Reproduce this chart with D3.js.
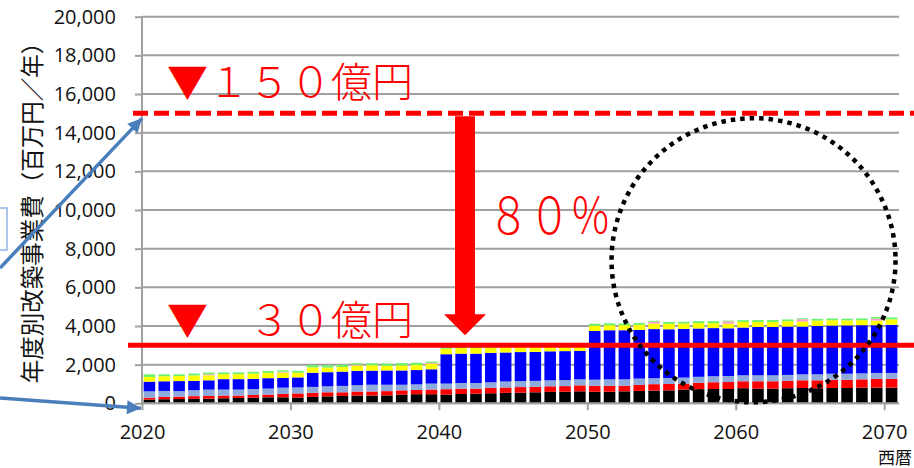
<!DOCTYPE html>
<html>
<head>
<meta charset="utf-8">
<script src="https://cdn.jsdelivr.net/npm/d3@7"></script>
<style>
  html, body { margin: 0; padding: 0; background: #fff; }
  svg { display: block; }
</style>
</head>
<body>
<svg id="chart" width="914" height="468"></svg>
<script>
// Annual renewal project cost by category (百万円/年), 2020–2070
const years = d3.range(2020, 2071);

const seriesBlack = [
  190, 210, 220, 230, 240, 260, 280, 290, 310, 310,
  300, 330, 360, 380, 400, 400, 410, 450, 470, 470,
  450, 480, 500, 520, 540, 550, 570, 590, 600, 620,
  600, 600, 620, 640, 660, 670, 710, 730, 740, 740,
  780, 760, 760, 780, 790, 780, 790, 790, 810, 810, 810
];
const seriesRed = [
  100, 120, 120, 140, 140, 140, 120, 140, 140, 170,
  210, 210, 210, 190, 210, 210, 220, 220, 220, 240,
  280, 280, 260, 280, 280, 290, 280, 290, 290, 310,
  310, 310, 290, 310, 330, 330, 310, 330, 350, 360,
  360, 380, 380, 380, 400, 410, 430, 430, 430, 450, 450
];
const seriesLightBlue = [
  330, 310, 290, 310, 330, 310, 310, 310, 310, 330,
  310, 310, 310, 330, 330, 350, 330, 290, 290, 310,
  290, 290, 290, 290, 310, 310, 310, 310, 310, 310,
  310, 330, 330, 330, 310, 310, 310, 310, 310, 310,
  310, 310, 310, 310, 310, 310, 310, 310, 310, 310, 310
];
const seriesBlue = [
  500, 500, 520, 480, 480, 540, 540, 520, 540, 500,
  520, 730, 730, 740, 740, 730, 740, 740, 740, 740,
  1520, 1520, 1520, 1520, 1500, 1500, 1500, 1500, 1500, 1470,
  2520, 2540, 2540, 2520, 2540, 2520, 2520, 2500, 2490, 2470,
  2470, 2500, 2500, 2500, 2470, 2500, 2490, 2500, 2490, 2470, 2490
];
const seriesYellow = [
  240, 260, 260, 280, 260, 260, 260, 280, 280, 280,
  240, 280, 240, 240, 280, 280, 240, 260, 260, 290,
  290, 290, 290, 280, 280, 280, 280, 260, 260, 260,
  280, 260, 260, 260, 290, 280, 280, 280, 260, 240,
  290, 260, 260, 280, 260, 280, 280, 260, 260, 240, 280
];
const seriesPink = [
  0, 0, 0, 0, 50, 0, 0, 0, 0, 50,
  0, 0, 0, 0, 50, 0, 0, 0, 0, 40,
  0, 0, 0, 0, 70, 0, 0, 0, 0, 40,
  0, 0, 0, 0, 90, 0, 0, 0, 0, 120,
  0, 0, 0, 0, 120, 0, 0, 0, 0, 100, 0
];
const seriesGreen = [
  140, 100, 90, 100, 90, 90, 90, 90, 90, 70,
  100, 120, 120, 120, 70, 100, 120, 120, 120, 70,
  90, 90, 90, 90, 40, 100, 100, 90, 90, 50,
  100, 100, 90, 100, 50, 100, 90, 100, 100, 40,
  90, 100, 100, 90, 50, 90, 90, 90, 90, 90, 100
];

const seriesKeys = ["black", "red", "lightblue", "blue", "yellow", "pink", "green"];
const seriesColors = ["#000000", "#ff0000", "#8ea9db", "#0000ff", "#ffff00", "#ff99cc", "#6cf26c"];

const yTicks = [0, 2000, 4000, 6000, 8000, 10000, 12000, 14000, 16000, 18000, 20000];
const xTicks = [2020, 2030, 2040, 2050, 2060, 2070];

const yTitle = "年度別改築事業費（百万円／年）";
const xTitle = "西暦";
const labelHigh = "▼１５０億円";
const labelLow = "▼　３０億円";
const labelCut = "８０％";
const levelHigh = 15000;   // 150億円
const levelLow = 3000;     // 30億円

// Build table rows for the stack layout
const rows = years.map((yr, i) => ({
  year: yr,
  black: seriesBlack[i],
  red: seriesRed[i],
  lightblue: seriesLightBlue[i],
  blue: seriesBlue[i],
  yellow: seriesYellow[i],
  pink: seriesPink[i],
  green: seriesGreen[i]
}));

const svg = d3.select("#chart");
const plot = { left: 142, right: 899, top: 16.7, bottom: 403.3 };

const x = d3.scaleLinear().domain([2020, 2071]).range([plot.left, plot.right]);
const y = d3.scaleLinear().domain([0, 20000]).range([plot.bottom, plot.top]);
const band = x(2021) - x(2020);
const pad = 0.11 * band;

const tickFont = "'Open Sans', 'Noto Sans', sans-serif";
const cjkFont = "'Noto Sans CJK JP', 'Noto Sans CJK SC', sans-serif";

// Horizontal gridlines
svg.append("g")
  .selectAll("line")
  .data(yTicks)
  .join("line")
  .attr("x1", plot.left).attr("x2", plot.right)
  .attr("y1", d => y(d)).attr("y2", d => y(d))
  .attr("stroke", "#a0a0a0").attr("stroke-width", 2);

// Stacked bars
const stacked = d3.stack().keys(seriesKeys)(rows);
svg.append("g")
  .selectAll("g")
  .data(stacked)
  .join("g")
  .attr("fill", (d, i) => seriesColors[i])
  .selectAll("rect")
  .data(d => d)
  .join("rect")
  .attr("x", d => x(d.data.year) + pad)
  .attr("width", band - 2 * pad)
  .attr("y", d => y(d[1]))
  .attr("height", d => Math.max(0, y(d[0]) - y(d[1])));

// Axes
const yAxis = d3.axisLeft(y).tickValues(yTicks).tickSize(7).tickPadding(19)
  .tickFormat(d3.format(","));
const gy = svg.append("g").attr("transform", `translate(${plot.left},0)`).call(yAxis);
gy.select(".domain").attr("stroke", "#a0a0a0").attr("stroke-width", 2).attr("d", `M0,${plot.top}V${plot.bottom}`);
gy.selectAll(".tick line").attr("stroke", "#a0a0a0").attr("stroke-width", 2);
gy.selectAll(".tick text").attr("font-family", tickFont).attr("font-size", 20).attr("fill", "#111");

const xAxis = d3.axisBottom(x).tickValues(xTicks).tickSize(7).tickPadding(15)
  .tickFormat(d3.format("d"));
const gx = svg.append("g").attr("transform", `translate(0,${plot.bottom})`).call(xAxis);
gx.select(".domain").attr("stroke", "#a0a0a0").attr("stroke-width", 2).attr("d", `M${plot.left},0H${plot.right}`);
gx.selectAll(".tick line").attr("stroke", "#a0a0a0").attr("stroke-width", 2);
gx.selectAll(".tick text").attr("font-family", tickFont).attr("font-size", 20).attr("fill", "#111");

// Axis titles
svg.append("text")
  .attr("transform", "translate(31,207) rotate(-90)")
  .attr("text-anchor", "middle")
  .attr("dominant-baseline", "central")
  .attr("font-family", cjkFont)
  .attr("font-size", 23.5)
  .attr("fill", "#111")
  .text(yTitle);

svg.append("text")
  .attr("x", 912).attr("y", 464)
  .attr("text-anchor", "end")
  .attr("font-family", cjkFont)
  .attr("font-size", 17)
  .attr("fill", "#111")
  .text(xTitle);

// Reference levels
svg.append("line")
  .attr("x1", 133).attr("x2", 914)
  .attr("y1", y(levelHigh)).attr("y2", y(levelHigh))
  .attr("stroke", "#ff0000").attr("stroke-width", 5)
  .attr("stroke-dasharray", "15 6");

svg.append("line")
  .attr("x1", 128).attr("x2", 914)
  .attr("y1", y(levelLow)).attr("y2", y(levelLow))
  .attr("stroke", "#ff0000").attr("stroke-width", 5);

// Reduction arrow between the two levels
const ax = 465;
const aTop = y(levelHigh) + 3;
const aTip = y(levelLow) - 10;
const headLen = 21;
svg.append("path")
  .attr("d", `M${ax - 10},${aTop} H${ax + 10} V${aTip - headLen} H${ax + 21} L${ax},${aTip} L${ax - 21},${aTip - headLen} H${ax - 10} Z`)
  .attr("fill", "#ff0000");

// Level labels
svg.append("text")
  .attr("x", 167).attr("y", 97)
  .attr("font-family", cjkFont).attr("font-size", 41).attr("font-weight", 300)
  .attr("fill", "#ff0000")
  .text(labelHigh);

svg.append("text")
  .attr("x", 167).attr("y", 335)
  .attr("font-family", cjkFont).attr("font-size", 41).attr("font-weight", 300)
  .attr("fill", "#ff0000")
  .text(labelLow);

svg.append("text")
  .attr("transform", "translate(488,234) scale(1,1.22)")
  .attr("font-family", cjkFont).attr("font-size", 41).attr("font-weight", 300)
  .attr("fill", "#ff0000")
  .text(labelCut);

// Callout box and pointers toward the axis
svg.append("rect")
  .attr("x", -6).attr("y", 208).attr("width", 13).attr("height", 42)
  .attr("fill", "#fff").attr("stroke", "#8eb4e3").attr("stroke-width", 1.5);

const defs = svg.append("defs");
defs.append("marker")
  .attr("id", "head").attr("viewBox", "0 0 10 10")
  .attr("refX", 10).attr("refY", 5)
  .attr("markerWidth", 5).attr("markerHeight", 4)
  .attr("markerUnits", "strokeWidth")
  .attr("orient", "auto")
  .append("path").attr("d", "M0,0 L10,5 L0,10 Z").attr("fill", "#4a7ebb");

svg.append("line")
  .attr("x1", 0).attr("y1", 268)
  .attr("x2", plot.left).attr("y2", y(levelHigh) + 5)
  .attr("stroke", "#4a7ebb").attr("stroke-width", 3.5)
  .attr("marker-end", "url(#head)");

svg.append("line")
  .attr("x1", 0).attr("y1", 398)
  .attr("x2", plot.left - 1).attr("y2", y(0) + 5)
  .attr("stroke", "#4a7ebb").attr("stroke-width", 3.5)
  .attr("marker-end", "url(#head)");

// Dotted highlight circle around the later period
svg.append("circle")
  .attr("cx", x(2061.2)).attr("cy", y(7400)).attr("r", 142)
  .attr("fill", "none")
  .attr("stroke", "#000").attr("stroke-width", 4.5)
  .attr("stroke-dasharray", "4.5 5");
</script>
</body>
</html>
